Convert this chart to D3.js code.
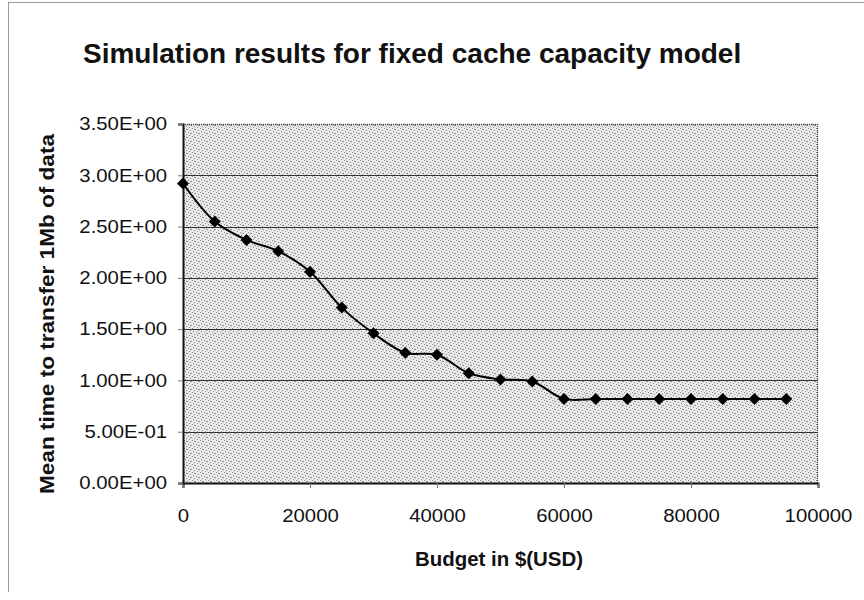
<!DOCTYPE html>
<html>
<head>
<meta charset="utf-8">
<script src="https://cdn.jsdelivr.net/npm/d3@7"></script>
<style>
  html, body { margin: 0; padding: 0; background: #ffffff; }
  svg { display: block; font-family: Arial, "Liberation Sans", sans-serif; }
</style>
</head>
<body>
<svg id="chart" width="864" height="600"></svg>
<script>
// ---- data ----
const budgets = [0, 5000, 10000, 15000, 20000, 25000, 30000, 35000, 40000, 45000,
                 50000, 55000, 60000, 65000, 70000, 75000, 80000, 85000, 90000, 95000];
const meanTimes = [2.92, 2.55, 2.37, 2.26, 2.06, 1.71, 1.46, 1.27, 1.25, 1.07,
                   1.01, 0.99, 0.82, 0.82, 0.82, 0.82, 0.82, 0.82, 0.82, 0.82];
const xTicks = [0, 20000, 40000, 60000, 80000, 100000];
const yTicks = [0, 0.5, 1.0, 1.5, 2.0, 2.5, 3.0, 3.5];
const titleText = "Simulation results for fixed cache capacity model";
const xLabelText = "Budget in $(USD)";
const yLabelText = "Mean time to transfer 1Mb of data";

// ---- layout ----
const plot = { left: 183, right: 818, top: 124, bottom: 483 };
const svg = d3.select("#chart");

// outer frame (left & top edges visible)
svg.append("line").attr("x1", 8.5).attr("x2", 8.5).attr("y1", 2).attr("y2", 592)
  .attr("stroke", "#9a9a9a").attr("stroke-width", 1);
svg.append("line").attr("x1", 8).attr("x2", 864).attr("y1", 2.5).attr("y2", 2.5)
  .attr("stroke", "#9a9a9a").attr("stroke-width", 1);

const x = d3.scaleLinear().domain([0, 100000]).range([plot.left, plot.right]);
const y = d3.scaleLinear().domain([0, 3.5]).range([plot.bottom, plot.top]);

// dithered gray background pattern
const defs = svg.append("defs");
const pat = defs.append("pattern").attr("id", "dither")
  .attr("width", 8).attr("height", 8).attr("patternUnits", "userSpaceOnUse");
pat.append("rect").attr("width", 8).attr("height", 8).attr("fill", "#e8e8e8");
[[0,0],[3,1],[6,2],[1,3],[4,4],[7,5],[2,6],[5,7],[2,1],[6,5]].forEach(([px, py]) => {
  pat.append("rect").attr("x", px).attr("y", py).attr("width", 1).attr("height", 1).attr("fill", "#8c8c8c");
});

svg.append("rect")
  .attr("x", plot.left).attr("y", plot.top)
  .attr("width", plot.right - plot.left).attr("height", plot.bottom - plot.top)
  .attr("fill", "url(#dither)");

// plot border (top & right, dotted)
svg.append("path")
  .attr("d", `M${plot.left},${plot.top + 0.5}H${plot.right - 0.5}V${plot.bottom}`)
  .attr("fill", "none").attr("stroke", "#444").attr("stroke-width", 1.3)
  .attr("stroke-dasharray", "1,1");

// gridlines
svg.append("g").selectAll("line").data(yTicks.filter(t => t > 0 && t < 3.5)).join("line")
  .attr("x1", plot.left).attr("x2", plot.right)
  .attr("y1", d => Math.round(y(d)) + 0.5).attr("y2", d => Math.round(y(d)) + 0.5)
  .attr("stroke", "#333").attr("stroke-width", 1);

// exponent formatter like Excel: 3.50E+00
function sci(v) {
  const s = v.toExponential(2).toUpperCase();
  const m = s.match(/^(-?[\d.]+)E([+-])(\d+)$/);
  return m[1] + "E" + m[2] + m[3].padStart(2, "0");
}

// widen text horizontally like the reference font
function widen(sel, k) {
  sel.each(function () {
    const w = this.getComputedTextLength();
    d3.select(this).attr("textLength", w * k).attr("lengthAdjust", "spacingAndGlyphs");
  });
}

// axes
const xAxis = d3.axisBottom(x).tickValues(xTicks).tickFormat(d3.format("d"))
  .tickSize(5).tickPadding(21);
const gx = svg.append("g").attr("transform", `translate(0,${plot.bottom})`).call(xAxis);
gx.select(".domain").attr("stroke", "#111").attr("stroke-width", 2);
gx.selectAll(".tick line").attr("stroke", "#777");
gx.selectAll("text").attr("font-size", 18).attr("fill", "#111")
  .attr("font-family", "Arial, 'Liberation Sans', sans-serif");
widen(gx.selectAll("text"), 1.13);

const yAxis = d3.axisLeft(y).tickValues(yTicks).tickFormat(sci).tickSize(5).tickPadding(11);
const gy = svg.append("g").attr("transform", `translate(${plot.left},0)`).call(yAxis);
gy.select(".domain").attr("stroke", "#111").attr("stroke-width", 2);
gy.selectAll(".tick line").attr("stroke", "#777");
gy.selectAll("text").attr("font-size", 18).attr("fill", "#111")
  .attr("font-family", "Arial, 'Liberation Sans', sans-serif");
widen(gy.selectAll("text"), 1.13);

// smoothed line
const pts = budgets.map((b, i) => [b, meanTimes[i]]);
const line = d3.line().x(d => x(d[0])).y(d => y(d[1])).curve(d3.curveCatmullRom.alpha(0.5));
svg.append("path").datum(pts).attr("d", line)
  .attr("fill", "none").attr("stroke", "#000").attr("stroke-width", 2);

// diamond markers
const sym = d3.symbol().type(d3.symbolSquare).size(72);
svg.append("g").selectAll("path").data(pts).join("path")
  .attr("d", sym)
  .attr("transform", d => `translate(${x(d[0])},${y(d[1])}) rotate(45)`)
  .attr("fill", "#000");

// title
svg.append("text").attr("x", 83).attr("y", 63).attr("text-anchor", "start")
  .attr("font-size", 28).attr("font-weight", "bold").attr("fill", "#111")
  .text(titleText);

// x label
const xl = svg.append("text").attr("x", 499).attr("y", 566)
  .attr("text-anchor", "middle").attr("font-size", 20).attr("font-weight", "bold")
  .attr("fill", "#111").text(xLabelText);
xl.attr("textLength", 168).attr("lengthAdjust", "spacingAndGlyphs");

// y label
const yl = svg.append("text")
  .attr("transform", `translate(54,314) rotate(-90)`)
  .attr("text-anchor", "middle").attr("font-size", 20).attr("font-weight", "bold")
  .attr("fill", "#111").text(yLabelText);
yl.attr("textLength", 360).attr("lengthAdjust", "spacingAndGlyphs");
</script>
</body>
</html>
